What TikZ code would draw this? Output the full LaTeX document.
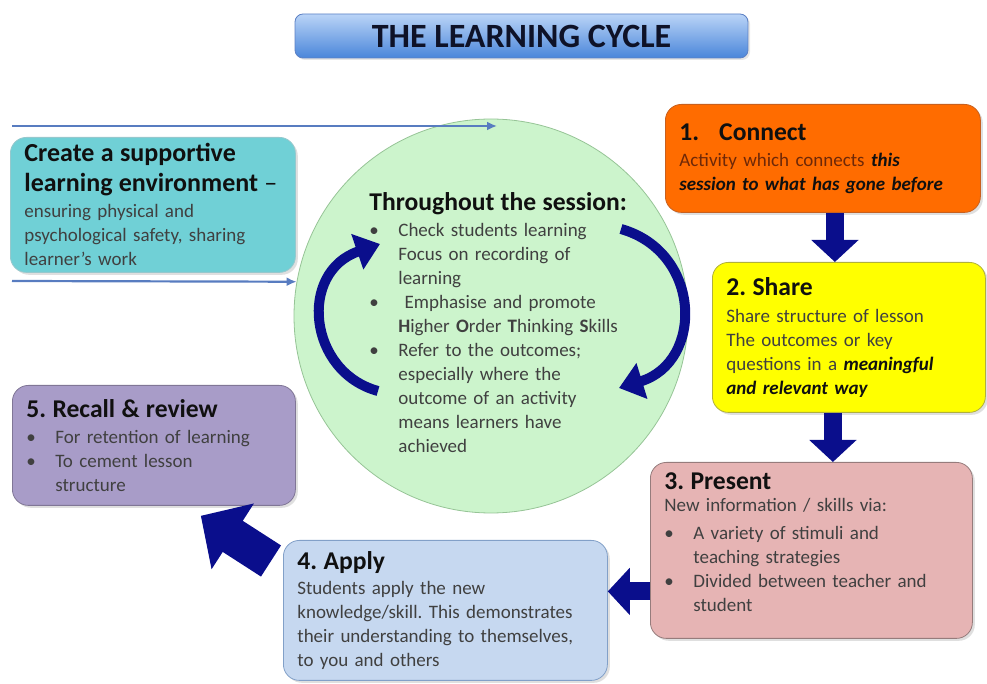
\documentclass[tikz,border=0pt]{standalone}
\usepackage{fontspec}
\setmainfont{Carlito}
\frenchspacing
\usetikzlibrary{arrows.meta,positioning,shadows}
\definecolor{titletop}{RGB}{186,212,247}
\definecolor{titlebottom}{RGB}{74,134,218}
\definecolor{titleline}{RGB}{92,128,196}
\definecolor{titletext}{RGB}{14,18,40}
\definecolor{envfill}{RGB}{112,208,214}
\definecolor{envline}{RGB}{150,200,205}
\definecolor{sessionfill}{RGB}{204,244,204}
\definecolor{sessionline}{RGB}{150,196,150}
\definecolor{connectfill}{RGB}{255,108,0}
\definecolor{connectline}{RGB}{200,96,30}
\definecolor{sharefill}{RGB}{255,255,0}
\definecolor{shareline}{RGB}{176,176,60}
\definecolor{presentfill}{RGB}{230,180,180}
\definecolor{presentline}{RGB}{150,124,124}
\definecolor{applyfill}{RGB}{198,216,240}
\definecolor{applyline}{RGB}{130,160,200}
\definecolor{recallfill}{RGB}{168,156,200}
\definecolor{recallline}{RGB}{128,118,150}
\definecolor{navy}{RGB}{10,14,140}
\definecolor{flowline}{RGB}{88,124,192}
\definecolor{bodytext}{RGB}{64,64,64}
\definecolor{headtext}{RGB}{16,16,16}
\definecolor{connecttext}{RGB}{110,40,8}
\newcommand{\headfont}{\fontsize{12.8}{15}\selectfont\bfseries\color{headtext}}
\newcommand{\bodyfont}{\fontsize{9.5}{12}\selectfont}
\newcommand{\bpt}{\makebox[14.5pt][l]{\textbullet}}
\newcommand{\bind}{\hspace*{14.5pt}}
\newcommand{\bfit}[1]{{\bfseries\itshape\color{headtext}#1}}
\tikzstyle{stage} = [draw, rounded corners=8pt, anchor=north west, align=left, inner xsep=7pt, inner ysep=3pt, font=\bodyfont, text=bodytext, drop shadow={opacity=0.25,shadow xshift=1.2pt,shadow yshift=-1.2pt}]
\tikzstyle{flow} = [draw=flowline, line width=1.1pt, -{Latex[length=5pt,width=4.5pt]}]
\tikzstyle{block} = [draw=navy, line width=9pt, -{Triangle[width=23pt,length=11pt]}]
\tikzstyle{bigblock} = [draw=navy, line width=18.5pt, -{Triangle[width=38pt,length=19pt]}]
\tikzstyle{swirl} = [draw=navy, line width=5pt, -{Triangle[width=18pt,length=12pt]}]

\begin{document}
\begin{tikzpicture}[x=0.5pt,y=-0.5pt]
    \useasboundingbox (0,0) rectangle (987,684);

    \node[draw=titleline, top color=titletop, bottom color=titlebottom, rounded corners=4pt,
        minimum width=226.5pt, minimum height=22pt, text=titletext,
        font=\fontsize{17}{20}\selectfont\bfseries,
        drop shadow={opacity=0.2,shadow xshift=1pt,shadow yshift=-1pt}] (title) at (521.5,36) {THE LEARNING CYCLE};

    \node[circle, draw=sessionline, fill=sessionfill, minimum size=197pt, inner sep=0pt] (session) at (491,316) {};
    \node[anchor=north west, inner sep=0pt, text width=140pt, align=left, font=\bodyfont, text=bodytext] (sessiontext) at (369,192)
        {{\fontsize{12.8}{15}\selectfont\bfseries\color{headtext}Throughout the session:}\\[1pt]
         \bpt Check students learning\\
         \bind Focus on recording of\\
         \bind learning\\
         \bpt\ Emphasise and promote\\
         \bind\textbf{H}igher \textbf{O}rder \textbf{T}hinking \textbf{S}kills\\
         \bpt Refer to the outcomes;\\
         \bind especially where the\\
         \bind outcome of an activity\\
         \bind means learners have\\
         \bind achieved};
    \draw[swirl] (378,391) .. controls (308,372) and (298,272) .. (380,244);
    \draw[swirl] (621,229) .. controls (702,252) and (704,362) .. (619,388);

    \node[stage, fill=envfill, draw=envline, minimum width=142.5pt, minimum height=67.5pt, text width=128.5pt] (env) at (10,137)
        {{\fontsize{13}{15}\selectfont\bfseries\color{headtext}Create a supportive\\[3pt]
          learning environment \mdseries--}\\[1pt]
         ensuring physical and\\
         psychological safety, sharing\\
         learner's work};

    \coordinate (topstart) at (12,126);
    \coordinate (topend) at (497,126);
    \coordinate (lowstart) at (12,281);
    \draw[flow] (topstart) -- (topend);
    \draw[flow] (lowstart) -- (session.170);

    \node[stage, fill=connectfill, draw=connectline, minimum width=157.5pt, minimum height=54pt, text width=143.5pt] (connect) at (665,104)
        {{\headfont 1.\hspace{10pt}Connect}\\[1pt]
         {\color{connecttext}Activity which connects} \bfit{this}\\
         \bfit{session to what has gone before}};

    \node[stage, fill=sharefill, draw=shareline, minimum width=136.5pt, minimum height=75pt, text width=122.5pt] (share) at (712,262)
        {{\headfont 2. Share}\\[1.5pt]
         Share structure of lesson\\
         The outcomes or key\\
         questions in a \bfit{meaningful}\\
         \bfit{and relevant way}};

    \node[stage, fill=presentfill, draw=presentline, minimum width=161pt, minimum height=88pt, text width=147pt] (present) at (650,462)
        {{\headfont 3. Present}\\[-1pt]
         New information / skills via:\\[2pt]
         \bpt A variety of stimuli and\\
         \bind teaching strategies\\
         \bpt Divided between teacher and\\
         \bind student\par\vspace{8pt}};

    \node[stage, fill=applyfill, draw=applyline, minimum width=162pt, minimum height=70pt, text width=148pt] (apply) at (283,540)
        {{\headfont 4. Apply}\\[0.5pt]
         Students apply the new\\
         knowledge/skill. This demonstrates\\
         their understanding to themselves,\\
         to you and others};

    \node[stage, fill=recallfill, draw=recallline, minimum width=141.5pt, minimum height=60pt, text width=127.5pt] (recall) at (12,385)
        {{\headfont 5. Recall \& review}\\[1pt]
         \bpt For retention of learning\\
         \bpt To cement lesson\\
         \bind structure};

    \draw[block] ([xshift=6pt]connect.south) -- ([xshift=6pt]connect.south |- share.north);
    \draw[block] ([xshift=-8pt]share.south) -- ([xshift=-8pt]share.south |- present.north);
    \draw[block] ([yshift=-20.5pt]present.west) -- ([yshift=-20.5pt]present.west -| apply.east);
    \draw[bigblock] ([xshift=-6pt,yshift=-10.5pt]apply.north west) -- ([xshift=-47.5pt,yshift=-5pt]recall.south east);
\end{tikzpicture}
\end{document}
